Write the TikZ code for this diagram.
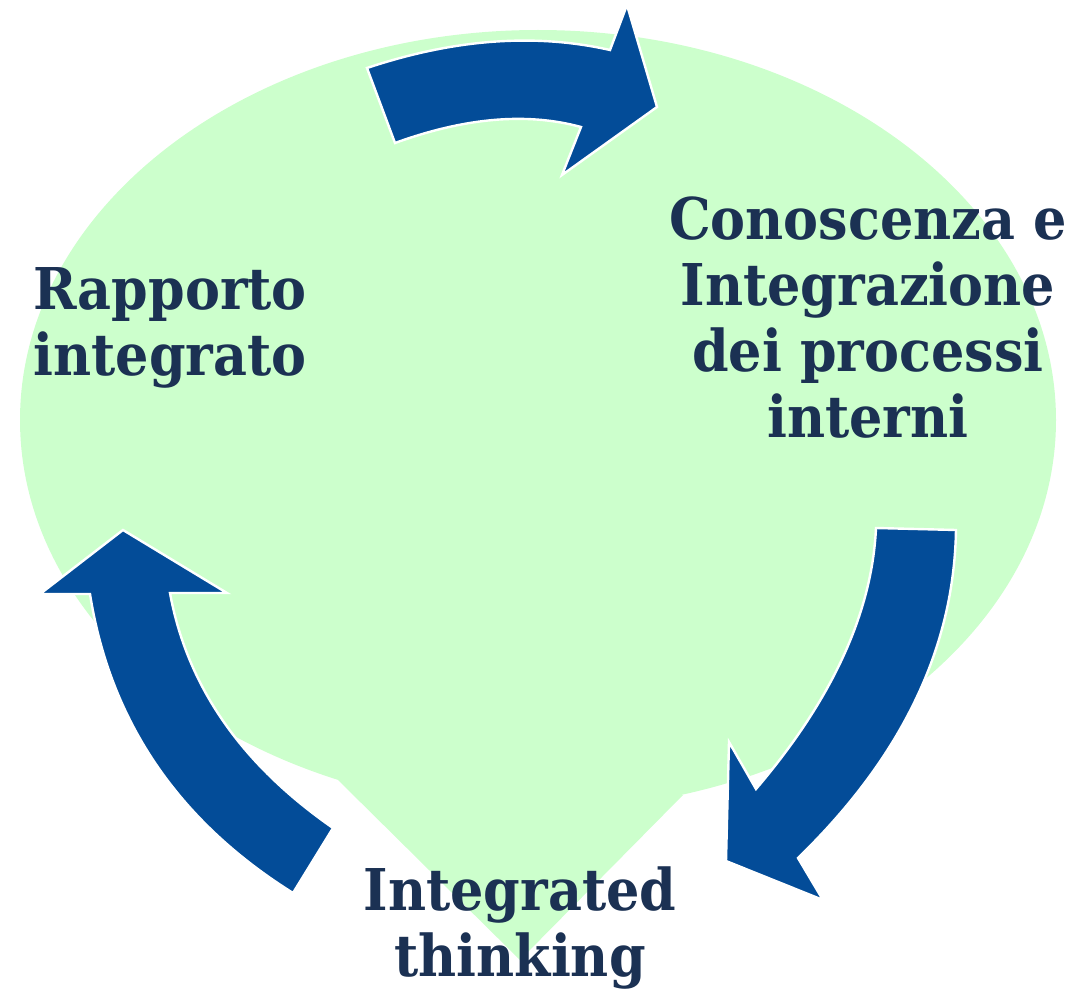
\documentclass[tikz,border=0pt]{standalone}
\usepackage{fontspec}
\setmainfont[FakeStretch=0.91]{DejaVu Serif}
\definecolor{balloon}{HTML}{CCFFCC}
\definecolor{cyclearrow}{HTML}{034C98}
\definecolor{navytext}{HTML}{1B3153}
\tikzstyle{phasetext}=[text=navytext,font=\fontsize{28.8}{33}\selectfont\bfseries,align=center,inner sep=0pt]
\tikzstyle{cyclearrow}=[fill=cyclearrow,draw=white,line width=1.2pt,line join=miter]
\newcommand{\phase}[3]{\node[phasetext] (#1) at (#2) {#3};}

\begin{document}
\begin{tikzpicture}[x=0.5pt,y=-0.5pt]
    \useasboundingbox (0,0) rectangle (1072,995);
    % balloon behind the cycle
    \fill[balloon] (538,420) ellipse [x radius=518,y radius=390];
    \fill[balloon] (338,780) -- (520,960) -- (683,795) -- cycle;

    % curved arrows
    \draw[cyclearrow] (367,68) .. controls (454,39) and (535,33) .. (610,50) -- (627,5) -- (657,107) -- (562,175) -- (581,127) .. controls (526,112) and (464,118) .. (395,143) -- cycle;
    \draw[cyclearrow] (876,528) -- (956,530) .. controls (954,647) and (903,756) .. (798,858) -- (823,900) -- (726,861) -- (729,742) -- (756,789) .. controls (832,700) and (872,613) .. (876,528) -- cycle;
    \draw[cyclearrow] (123,530) -- (227,593) -- (170,593) .. controls (187,686) and (241,764) .. (333,828) -- (293,893) .. controls (178,821) and (110,721) .. (90,594) -- (40,594) -- cycle;

    % phases
    \phase{report}{170,328}{Rapporto\\integrato}
    \phase{knowledge}{868,318}{Conoscenza e\\Integrazione\\dei processi\\interni}
    \phase{thinking}{520,928}{Integrated\\thinking}
\end{tikzpicture}
\end{document}
